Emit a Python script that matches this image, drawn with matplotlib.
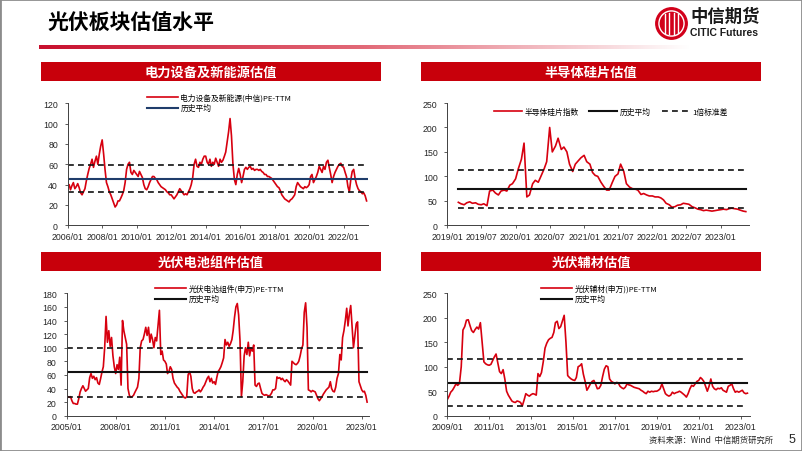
import numpy as np
import pandas as pd
import matplotlib
matplotlib.use("Agg")
import matplotlib.pyplot as plt
from matplotlib.patches import Rectangle, Circle
from matplotlib.colors import LinearSegmentedColormap

plt.rcParams['font.family'] = ['Liberation Sans', 'Noto Sans CJK SC', 'DejaVu Sans']
CJK = ['Noto Sans CJK SC', 'DejaVu Sans']

# ----------------------------
# Data
# ----------------------------
# 电力设备及新能源(中信) PE-TTM, monthly from 2006/01
pe_power = [37, 40, 35, 39, 42, 36, 38, 41, 37, 32, 30, 33,
            36, 44, 50, 56, 60, 65, 57, 63, 68, 60, 70, 78,
            84, 70, 55, 42, 38, 33, 30, 26, 22, 18, 20, 24,
            24, 27, 30, 34, 42, 55, 60, 62, 52, 50, 54, 52,
            50, 48, 53, 50, 47, 40, 36, 35, 38, 42, 45, 48,
            48, 46, 45, 42, 40, 38, 37, 36, 35, 33, 32, 30,
            30, 28, 26, 28, 30, 33, 36, 34, 32, 30, 31, 30,
            33, 36, 40, 47, 60, 65, 58, 57, 62, 60, 65, 68,
            68, 62, 60, 65, 58, 62, 60, 66, 62, 58, 65, 62,
            64, 68, 72, 82, 92, 105, 88, 60, 45, 40, 50, 56,
            50, 42, 48, 55, 57, 55, 57, 58, 55, 56, 54, 55,
            55, 54, 55, 53, 52, 50, 50, 48, 48, 47, 46, 44,
            42, 40, 38, 37, 34, 30, 28, 26, 25, 24, 23, 25,
            26, 28, 30, 38, 42, 40, 38, 37, 36, 38, 37, 38,
            40, 48, 50, 42, 45, 48, 52, 58, 55, 52, 58, 55,
            62, 64, 57, 50, 42, 48, 52, 55, 58, 60, 61, 58,
            57, 52, 48, 38, 33, 45, 53, 55, 46, 40, 36, 34,
            33, 31, 32, 29, 24]
power_start = '2006-01-01'
power_mean, power_hi, power_lo = 46, 59, 33

# 半导体硅片指数, twice a month from 2019/03
pe_wafer = [47, 44, 42, 46, 48, 45, 46, 43, 42, 44, 40, 70, 72, 66, 62, 70, 72, 70, 82, 85,
            95, 115, 135, 168, 58, 62, 85, 92, 88, 100, 115, 130, 200, 150, 162, 178, 155, 160,
            150, 125, 110, 125, 132, 138,
            143, 130, 125, 108, 102, 100, 88, 80, 72, 72, 88, 100, 105, 125, 110, 85, 78, 75,
            74, 72, 63, 65, 62, 60,
            60, 58, 58, 56, 52, 45, 42, 37, 38, 41, 42, 45, 44, 43, 38, 36, 33, 32, 30, 31,
            30, 29, 30, 31,
            32, 33, 32, 34, 35, 34, 33, 31, 29, 28]
wafer_start = '2019-03-01'
wafer_mean, wafer_hi, wafer_lo = 75, 114, 36

# 光伏电池组件(申万) PE-TTM, monthly from 2005/01
pe_cell = [26, 28, 27, 28, 22, 18, 18, 17, 17, 25, 35, 40,
           44, 40, 36, 38, 40, 56, 62, 55, 58, 53, 56, 48,
           46, 55, 64, 72, 100, 146, 108, 125, 102, 115, 88, 72,
           62, 75, 68, 86, 45, 140, 125, 115, 105, 40, 30, 27,
           28, 30, 34, 38, 42, 55, 100, 110, 112, 120, 130, 118,
           130, 108, 120, 112, 100, 115, 110, 132, 155, 90, 95, 82,
           80, 76, 62, 65, 72, 68, 55, 48, 45, 42, 40, 36,
           33, 30, 27, 26, 28, 60, 65, 58, 40, 34, 33, 35,
           36, 38, 35, 38, 42, 45, 50, 55, 58, 50, 55, 48,
           50, 46, 56, 65, 68, 72, 78, 85, 112, 104, 108, 102,
           106, 112, 125, 145, 160, 165, 148, 110, 28, 50, 88, 100,
           90, 108, 88, 100, 95, 104, 45, 43, 47, 48, 40, 33,
           31, 30, 31, 30, 29, 30, 33, 38, 38, 40, 57, 55,
           56, 53, 55, 52, 50, 53, 51, 48, 45, 80, 78, 76,
           75, 77, 80, 88, 98, 104, 152, 166, 130, 38, 37, 35,
           37, 36, 35, 30, 25, 22, 25, 28, 32, 35, 38, 40,
           42, 50, 40, 36, 35, 42, 55, 62, 90, 82, 115, 125,
           140, 158, 132, 150, 162, 130, 100, 118, 135, 138, 50, 44,
           38, 35, 36, 30, 20]
cell_start = '2005-01-01'
cell_mean, cell_hi, cell_lo = 64, 100, 28

# 光伏辅材(申万) PE-TTM, monthly from 2009/01
pe_aux = [33, 40, 48, 52, 58, 65, 62, 66, 100, 175, 182, 195,
          196, 184, 174, 170, 176, 181, 177, 190, 150, 110, 106, 104,
          103, 105, 112, 120, 126, 108, 90, 86, 94, 75, 50, 42,
          36, 30, 28, 27, 30, 29, 27, 20, 32, 45, 42, 40,
          43, 45, 44, 42, 86, 80, 88, 110, 138, 148, 155, 158,
          160, 170, 190, 193, 178, 182, 193, 205, 150, 82, 78, 75,
          73, 72, 78, 100, 102, 106, 85, 70, 52, 58, 65, 70,
          72, 64, 55, 56, 62, 80, 95, 102, 100, 75, 70, 68,
          65, 68, 67, 60, 57, 55, 58, 65, 63, 62, 60, 58,
          57, 56, 55, 52, 50, 47, 45, 50, 48, 50, 49, 50,
          50, 52, 55, 65, 55, 45, 42, 40, 42, 48, 45, 47,
          48, 50, 48, 45, 42, 38, 45, 55, 62, 60, 65, 70,
          72, 78, 75, 70, 60, 50, 60, 75, 60, 55, 53, 56,
          55, 57, 52, 50, 48, 60, 62, 65, 55, 48, 50, 48,
          50, 52, 47, 45, 46]
aux_start = '2009-01-01'
aux_mean, aux_hi, aux_lo = 67, 115, 20

ticks_power = ['2006/01', '2008/01', '2010/01', '2012/01', '2014/01', '2016/01',
               '2018/01', '2020/01', '2022/01']
ticks_wafer = ['2019/01', '2019/07', '2020/01', '2020/07', '2021/01', '2021/07',
               '2022/01', '2022/07', '2023/01']
ticks_cell = ['2005/01', '2008/01', '2011/01', '2014/01', '2017/01', '2020/01', '2023/01']
ticks_aux = ['2009/01', '2011/01', '2013/01', '2015/01', '2017/01', '2019/01',
             '2021/01', '2023/01']

headers = ['电力设备及新能源估值', '半导体硅片估值', '光伏电池组件估值', '光伏辅材估值']

RED = '#D7000F'
BAR = '#C8000B'
W, H = 802, 452


def fx(px):
    return px / W


def fy(py):
    return 1 - py / H


def rect(l, t, r, b):
    return [fx(l), fy(b), (r - l) / W, (b - t) / H]


def style(ax, ymax, ystep, ticks, xmax):
    ax.set_ylim(0, ymax)
    ax.set_yticks(range(0, ymax + 1, ystep))
    tick_dates = pd.to_datetime(ticks, format='%Y/%m')
    ax.set_xticks(tick_dates)
    ax.set_xticklabels(ticks)
    ax.set_xlim(tick_dates[0], pd.Timestamp(xmax))
    for s in ['top', 'right']:
        ax.spines[s].set_visible(False)
    for s in ['left', 'bottom']:
        ax.spines[s].set_color('#404040')
        ax.spines[s].set_linewidth(0.7)
    ax.tick_params(axis='both', labelsize=6.3, length=2.5, width=0.6,
                   color='#404040', labelcolor='#262626')
    ax.tick_params(axis='y', pad=4.5)
    ax.tick_params(axis='x', pad=2)
    ax.patch.set_alpha(0)


def draw(ax, dates, vals, mean, hi, lo, mean_color, label):
    ln, = ax.plot(dates, vals, color=RED, lw=1.2, label=label)
    mn, = ax.plot([dates[0], dates[-1]], [mean, mean], color=mean_color, lw=1.5, label='历史平均')
    dl, = ax.plot([dates[0], dates[-1]], [hi, hi], color='#111111', lw=1.2,
                  ls=(0, (3.5, 2.5)), label='1倍标准差')
    ax.plot([dates[0], dates[-1]], [lo, lo], color='#111111', lw=1.2, ls=(0, (3.5, 2.5)))
    return ln, mn, dl


fig = plt.figure(figsize=(W / 100, H / 100), dpi=100)

# slide frame
fig.patches.append(Rectangle((0, 0), 1, 1, transform=fig.transFigure, fill=False,
                             edgecolor='#8c8c8c', lw=2))

# title and gradient rule
fig.text(fx(47), fy(23), '光伏板块估值水平', fontsize=15, fontweight='bold',
         family=CJK, va='center', ha='left', color='black')
cmap = LinearSegmentedColormap.from_list('rule', ['#C8102E', '#E26A78', '#FFFFFF'])
ax_g = fig.add_axes(rect(39, 46, 690, 50))
ax_g.imshow(np.linspace(0, 1, 256).reshape(1, -1), aspect='auto', cmap=cmap)
ax_g.axis('off')

# logo
ax_l = fig.add_axes(rect(655, 8, 688, 41))
ax_l.set_aspect('equal')
ax_l.add_patch(Circle((0, 0), 1, color='#D2001A'))
ax_l.add_patch(Circle((0, 0), 0.8, fill=False, edgecolor='white', lw=1.0))
for xv in [-0.42, -0.14, 0.14, 0.42]:
    h = np.sqrt(0.8 ** 2 - xv ** 2) * 0.85
    ax_l.plot([xv, xv], [-h, h], color='white', lw=1.0)
ax_l.set_xlim(-1.05, 1.05)
ax_l.set_ylim(-1.05, 1.05)
ax_l.axis('off')
fig.text(fx(690), fy(17), '中信期货', fontsize=12.5, fontweight='bold', family=CJK,
         va='center', ha='left', color='#1a1a1a')
fig.text(fx(690), fy(33), 'CITIC Futures', fontsize=7.5, fontweight='bold',
         va='center', ha='left', color='#1a1a1a')

# section headers
header_boxes = [(41, 63, 381, 82), (421, 63, 761, 82), (41, 253, 381, 272), (421, 253, 761, 272)]
for (l, t, r, b), txt in zip(header_boxes, headers):
    fig.patches.append(Rectangle((fx(l), fy(b)), (r - l) / W, (b - t) / H,
                                 transform=fig.transFigure, facecolor=BAR, edgecolor='none'))
    fig.text(fx((l + r) / 2), fy((t + b) / 2), txt, fontsize=9.5, fontweight='bold',
             family=CJK, color='white', ha='center', va='center')

leg_kw = dict(frameon=False, borderpad=0, borderaxespad=0, handletextpad=0.3,
              labelspacing=0.35, prop={'family': CJK, 'size': 5.6},
              bbox_transform=fig.transFigure)

# ----------------------------
# Chart 1: 电力设备及新能源
# ----------------------------
ax1 = fig.add_axes(rect(67.7, 104.3, 368, 226.3))
d1 = pd.date_range(power_start, periods=len(pe_power), freq='MS')
h1 = draw(ax1, d1, pe_power, power_mean, power_hi, power_lo, '#1F3D6B', '电力设备及新能源(中信)PE-TTM')
style(ax1, 120, 20, ticks_power, '2023-05-31')
ax1.legend(handles=h1[:2], loc='upper left', bbox_to_anchor=(fx(147), fy(94)),
           handlelength=4, **leg_kw)

# ----------------------------
# Chart 2: 半导体硅片
# ----------------------------
ax2 = fig.add_axes(rect(447.3, 104, 749, 226.3))
d2 = pd.date_range(wafer_start, periods=len(pe_wafer), freq='SMS')
h2 = draw(ax2, d2, pe_wafer, wafer_mean, wafer_hi, wafer_lo, '#111111', '半导体硅片指数')
style(ax2, 250, 50, ticks_wafer, '2023-06-01')
ax2.legend(handles=list(h2), loc='center left', bbox_to_anchor=(fx(494), fy(112.7)),
           ncol=3, handlelength=3.6, columnspacing=1.4, **leg_kw)

# ----------------------------
# Chart 3: 光伏电池组件
# ----------------------------
ax3 = fig.add_axes(rect(66.5, 294.3, 369, 416.7))
d3 = pd.date_range(cell_start, periods=len(pe_cell), freq='MS')
h3 = draw(ax3, d3, pe_cell, cell_mean, cell_hi, cell_lo, '#111111', '光伏电池组件(申万)PE-TTM')
style(ax3, 180, 20, ticks_cell, '2023-06-12')
ax3.legend(handles=h3[:2], loc='upper left', bbox_to_anchor=(fx(155), fy(285)),
           handlelength=4, **leg_kw)

# ----------------------------
# Chart 4: 光伏辅材
# ----------------------------
ax4 = fig.add_axes(rect(447.3, 294.3, 750, 416.7))
d4 = pd.date_range(aux_start, periods=len(pe_aux), freq='MS')
h4 = draw(ax4, d4, pe_aux, aux_mean, aux_hi, aux_lo, '#111111', '光伏辅材(申万))PE-TTM')
style(ax4, 250, 50, ticks_aux, '2023-06-15')
ax4.legend(handles=h4[:2], loc='upper left', bbox_to_anchor=(fx(541), fy(285)),
           handlelength=4, **leg_kw)

# footer
fig.text(fx(649), fy(440), '资料来源：Wind  中信期货研究所', fontsize=6, family=CJK,
         va='center', ha='left', color='#262626')
fig.text(fx(792), fy(440), '5', fontsize=9, va='center', ha='center', color='#262626')

fig.savefig('out.png', dpi=100)
